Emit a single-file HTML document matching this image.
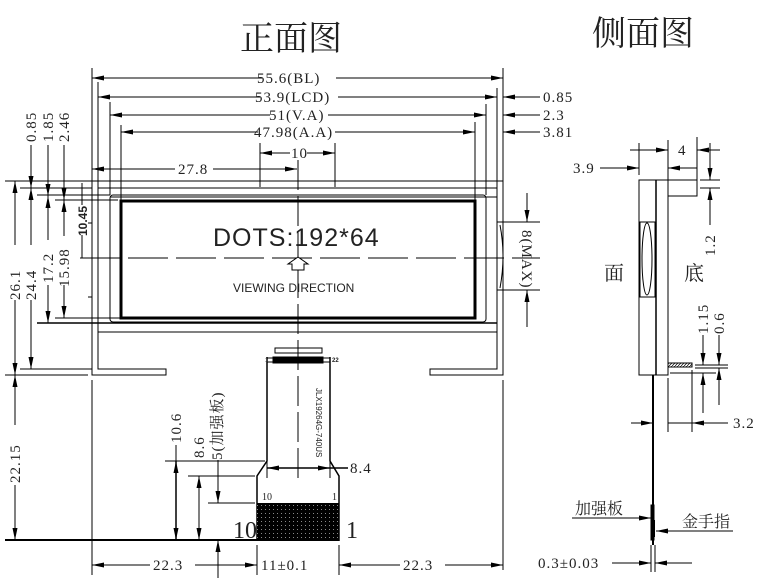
<!DOCTYPE html>
<html><head><meta charset="utf-8"><style>
html,body{margin:0;padding:0;background:#fff;width:768px;height:586px;overflow:hidden}
text{font-family:"Liberation Serif","Noto Serif CJK SC",serif;fill:#222}
</style></head><body>
<svg id="sv" width="768" height="586" viewBox="0 0 768 586" xmlns="http://www.w3.org/2000/svg">
<defs>
<pattern id="h" width="3" height="3" patternUnits="userSpaceOnUse"><path d="M0,3L3,0" stroke="#000" stroke-width="0.7"/></pattern>
<pattern id="g" width="4" height="4" patternUnits="userSpaceOnUse"><rect width="4" height="4" fill="#000"/><rect x="1" y="1" width="1" height="1" fill="#888"/></pattern>
</defs>
<g font-size="34">
<text x="240" y="50" style="font-family:'Noto Serif CJK SC',serif">正面图</text>
<text x="592" y="45" style="font-family:'Noto Serif CJK SC',serif">侧面图</text>
</g>
<g stroke="#000" fill="none" stroke-width="1">
<path d="M92,68V375H166V369H98V188H497V369H430V375H503V68" />
<line x1="5" y1="181" x2="503" y2="181"/>
<line x1="98" y1="332" x2="497" y2="332"/>
<line x1="110" y1="197" x2="497" y2="197"/>
<rect x="110" y="195" width="376" height="127" rx="3"/>
<rect x="121" y="201" width="354" height="117" stroke-width="3"/>
<line x1="37" y1="323" x2="497" y2="323" stroke-width="1.5"/>
<line x1="5" y1="375" x2="88" y2="375"/>
<line x1="20" y1="369" x2="92" y2="369"/>
<line x1="20" y1="188" x2="92" y2="188"/>
<line x1="37" y1="195" x2="110" y2="195"/>
<line x1="55" y1="200" x2="118" y2="200"/>
<line x1="55" y1="318" x2="121" y2="318"/>
<line x1="88" y1="223" x2="92" y2="223"/><line x1="88" y1="297" x2="92" y2="297"/>
<line x1="98" y1="82" x2="98" y2="188"/>
<line x1="110" y1="102" x2="110" y2="195"/>
<line x1="121" y1="125" x2="121" y2="201"/>
<line x1="497" y1="88" x2="497" y2="188"/>
<line x1="486" y1="104" x2="486" y2="195"/>
<line x1="475" y1="122" x2="475" y2="201"/>
<line x1="260" y1="143" x2="260" y2="187"/>
<line x1="335" y1="143" x2="335" y2="187"/>
<line x1="298" y1="160" x2="298" y2="480" stroke-dasharray="30,6"/>
<line x1="80" y1="258" x2="540" y2="258" stroke-dasharray="40,8"/>
<line class="s" x1="92" y1="78" x2="262" y2="78"/><line class="e" x1="336" y1="78" x2="503" y2="78"/>
<line class="s" x1="98" y1="97" x2="260" y2="97"/><line class="e" x1="338" y1="97" x2="497" y2="97"/>
<line class="s" x1="110" y1="115" x2="270" y2="115"/><line class="e" x1="328" y1="115" x2="486" y2="115"/>
<line class="s" x1="121" y1="132" x2="258" y2="132"/><line class="e" x1="335" y1="132" x2="475" y2="132"/>
<line class="s" x1="503" y1="97" x2="540" y2="97"/>
<line class="s" x1="503" y1="115" x2="540" y2="115"/>
<line class="s" x1="503" y1="132" x2="540" y2="132"/>
<line class="s" x1="260" y1="153" x2="290" y2="153"/><line class="e" x1="307" y1="153" x2="335" y2="153"/>
<line class="s" x1="92" y1="169" x2="175" y2="169"/><line class="e" x1="213" y1="169" x2="297" y2="169"/>
<line class="s" x1="15" y1="181" x2="15" y2="245"/><line class="e" x1="15" y1="300" x2="15" y2="375"/>
<line class="s" x1="31" y1="188" x2="31" y2="245"/><line class="e" x1="31" y1="300" x2="31" y2="369"/>
<line class="s" x1="48" y1="196" x2="48" y2="240"/><line class="e" x1="48" y1="285" x2="48" y2="323"/>
<line class="s" x1="64" y1="200" x2="64" y2="236"/><line class="e" x1="64" y1="285" x2="64" y2="318"/>
<line class="e" x1="31" y1="145" x2="31" y2="188"/>
<line class="e" x1="48" y1="145" x2="48" y2="196"/>
<line class="e" x1="64" y1="145" x2="64" y2="200"/>
<line x1="82" y1="183" x2="82" y2="205"/><line x1="82" y1="235" x2="82" y2="258"/>
<line class="s" x1="15" y1="375" x2="15" y2="425"/><line class="e" x1="15" y1="485" x2="15" y2="540"/>
<path d="M497,222H503V290H497"/>
<path d="M500,225Q506,256 500,288"/>
<line x1="500" y1="222" x2="540" y2="222"/><line x1="500" y1="290" x2="540" y2="290"/>
<line class="e" x1="527" y1="193" x2="527" y2="222"/>
<line class="e" x1="527" y1="327" x2="527" y2="290"/>
<path d="M292,270V264H288L298,257L308,264H304V270Z" fill="#fff"/>
<rect x="275" y="348" width="47" height="5"/>
<rect x="273" y="357" width="50" height="6" fill="#000"/>
<line x1="267" y1="358" x2="273" y2="358"/><line x1="267" y1="362" x2="273" y2="362"/>
<line x1="323" y1="358" x2="330" y2="358"/><line x1="323" y1="362" x2="330" y2="362"/>
<path d="M267,357V461L257,476V541M330,357V461L339,476V541" stroke-width="1.5"/>
<line x1="267" y1="461" x2="267" y2="478"/><line x1="330" y1="461" x2="330" y2="478"/>
<rect x="257" y="503" width="82" height="38" fill="url(#g)" stroke="none"/>
<line x1="5" y1="540" x2="257" y2="540" stroke-width="2"/>
<line x1="92" y1="380" x2="92" y2="575"/>
<line x1="503" y1="380" x2="503" y2="570"/>
<line x1="257" y1="545" x2="257" y2="575"/><line x1="339" y1="545" x2="339" y2="575"/>
<line class="s" x1="92" y1="565" x2="150" y2="565"/><line class="e" x1="195" y1="565" x2="257" y2="565"/>
<line class="s" x1="339" y1="565" x2="400" y2="565"/><line class="e" x1="445" y1="565" x2="503" y2="565"/>
<line class="s" x1="267" y1="468" x2="298" y2="468" stroke-width="1.5"/><line class="e" x1="298" y1="468" x2="330" y2="468" stroke-width="1.5"/>
<line x1="330" y1="468" x2="348" y2="468" stroke-width="1.5"/>
<line x1="165" y1="461" x2="265" y2="461"/>
<line x1="188" y1="476" x2="255" y2="476"/>
<line x1="208" y1="503" x2="255" y2="503"/>
<line x1="176" y1="445" x2="176" y2="461"/>
<line class="b" x1="176" y1="461" x2="176" y2="540" stroke-width="1.5"/>
<line class="b" x1="199" y1="476" x2="199" y2="540"/>
<line class="e" x1="218" y1="460" x2="218" y2="503"/>
<line class="e" x1="218" y1="578" x2="218" y2="540"/>
<rect x="639" y="180" width="29" height="195"/>
<line x1="656" y1="180" x2="656" y2="375" stroke-width="1.5"/>
<path d="M668,180H697V196H668"/>
<rect x="640" y="222" width="15" height="75"/>
<ellipse cx="647" cy="259" rx="5" ry="36"/>
<rect x="668" y="363" width="24" height="4" fill="url(#h)"/>
<line x1="639" y1="143" x2="639" y2="175"/>
<line x1="668" y1="140" x2="668" y2="180"/>
<line x1="697" y1="137" x2="697" y2="180"/>
<line class="e" x1="630" y1="150" x2="668" y2="150"/>
<line class="e" x1="720" y1="150" x2="697" y2="150"/>
<line class="e" x1="600" y1="168" x2="639" y2="168"/>
<line class="e" x1="697" y1="168" x2="668" y2="168"/>
<line x1="700" y1="180" x2="720" y2="180"/><line x1="700" y1="188" x2="720" y2="188"/>
<line class="e" x1="710" y1="143" x2="710" y2="180"/>
<line class="e" x1="710" y1="225" x2="710" y2="188"/>
<line x1="695" y1="365" x2="728" y2="365"/><line x1="695" y1="368" x2="728" y2="368"/>
<line x1="670" y1="373" x2="716" y2="373"/>
<line class="e" x1="703" y1="335" x2="703" y2="365"/>
<line class="e" x1="703" y1="413" x2="703" y2="373"/>
<line class="e" x1="719" y1="335" x2="719" y2="365"/>
<line class="e" x1="719" y1="405" x2="719" y2="368"/>
<line x1="668" y1="378" x2="668" y2="432"/><line x1="692" y1="370" x2="692" y2="432"/>
<line class="e" x1="631" y1="423" x2="653" y2="423"/>
<line x1="668" y1="423" x2="692" y2="423"/>
<line class="e" x1="728" y1="423" x2="692" y2="423"/>
<line x1="653" y1="375" x2="653" y2="545" stroke-width="2"/>
<rect x="651" y="505" width="3" height="35" fill="#000"/>
<line x1="654" y1="520" x2="654" y2="537" stroke-width="2"/>
<line class="e" x1="572" y1="518" x2="651" y2="518"/>
<line class="e" x1="733" y1="531" x2="656" y2="531"/>
<line x1="651" y1="545" x2="651" y2="572"/><line x1="655" y1="545" x2="655" y2="572"/>
<line class="e" x1="612" y1="563" x2="651" y2="563"/>
<line class="e" x1="692" y1="563" x2="655" y2="563"/>
</g>
<g id="arr" fill="#000"></g>
<g font-size="15" letter-spacing="1">
<text x="257" y="83">55.6(BL)</text>
<text x="255" y="102">53.9(LCD)</text>
<text x="269" y="120">51(V.A)</text>
<text x="254" y="137">47.98(A.A)</text>
<text x="543" y="102">0.85</text>
<text x="543" y="120">2.3</text>
<text x="543" y="137">3.81</text>
<text x="291" y="158">10</text>
<text x="178" y="174">27.8</text>
<text x="350" y="473">8.4</text>
<text x="153" y="570">22.3</text>
<text x="261" y="570">11±0.1</text>
<text x="403" y="570">22.3</text>
<text x="262" y="500" font-size="10" letter-spacing="0">10</text>
<text x="332" y="500" font-size="10" letter-spacing="0">1</text>
<text x="233" y="538" font-size="24" letter-spacing="0">10</text>
<text x="346" y="538" font-size="24" letter-spacing="0">1</text>
<text x="573" y="173">3.9</text>
<text x="678" y="155">4</text>
<text x="733" y="428">3.2</text>
<text x="538" y="568">0.3±0.03</text>
<text x="575" y="514" font-size="16" letter-spacing="0">加强板</text>
<text x="682" y="527" font-size="16" letter-spacing="0">金手指</text>
<text x="604" y="280" font-size="20">面</text>
<text x="684" y="280" font-size="20">底</text>
<g transform="rotate(-90)">
<text x="-142" y="36">0.85</text>
<text x="-142" y="53">1.85</text>
<text x="-142" y="69">2.46</text>
<text x="-300" y="20">26.1</text>
<text x="-300" y="36">24.4</text>
<text x="-283" y="53">17.2</text>
<text x="-287" y="69">15.98</text>
<text x="-236" y="87" style="font-family:'Liberation Sans',sans-serif" font-weight="bold" font-size="12" letter-spacing="0">10.45</text>
<text x="-483" y="20">22.15</text>
<text x="-443" y="181">10.6</text>
<text x="-458" y="204">8.6</text>
<text x="-460" y="222">5(加强板)</text>
<text x="-256" y="715">1.2</text>
<text x="-334" y="708">1.15</text>
<text x="-334" y="724">0.6</text>
</g>
<g transform="rotate(90)">
<text x="230" y="-522">8(MAX)</text>
<text x="388" y="-316" font-size="8" letter-spacing="0" style="font-family:'Liberation Sans',sans-serif">JLX19264G-740US</text>
</g>
</g>
<text x="265" y="362" font-size="6" style="font-family:'Liberation Sans',sans-serif">1</text>
<text x="332" y="362" font-size="6" font-weight="bold" style="font-family:'Liberation Sans',sans-serif">22</text>
<text x="213" y="246" style="font-family:'Liberation Sans',sans-serif;font-weight:300" font-size="25" letter-spacing="1">DOTS:192*64</text>
<text x="233" y="292" style="font-family:'Liberation Sans',sans-serif" font-size="12">VIEWING  DIRECTION</text>
</svg>
<script>
(function(){
var ns="http://www.w3.org/2000/svg",g=document.getElementById("arr");
function head(tx,ty,fx,fy){var dx=tx-fx,dy=ty-fy,l=Math.sqrt(dx*dx+dy*dy)||1;dx/=l;dy/=l;
var L=12,W=2.5,bx=tx-dx*L,by=ty-dy*L;
var p=document.createElementNS(ns,"polygon");
p.setAttribute("points",tx+","+ty+" "+(bx-dy*W)+","+(by+dx*W)+" "+(bx+dy*W)+","+(by-dx*W));
g.appendChild(p);}
var ls=document.querySelectorAll("line.s,line.e,line.b");
for(var i=0;i<ls.length;i++){var e=ls[i],x1=+e.getAttribute("x1"),y1=+e.getAttribute("y1"),x2=+e.getAttribute("x2"),y2=+e.getAttribute("y2"),c=e.getAttribute("class");
if(c=="s"||c=="b")head(x1,y1,x2,y2);
if(c=="e"||c=="b")head(x2,y2,x1,y1);}
})();
</script>
</body></html>
